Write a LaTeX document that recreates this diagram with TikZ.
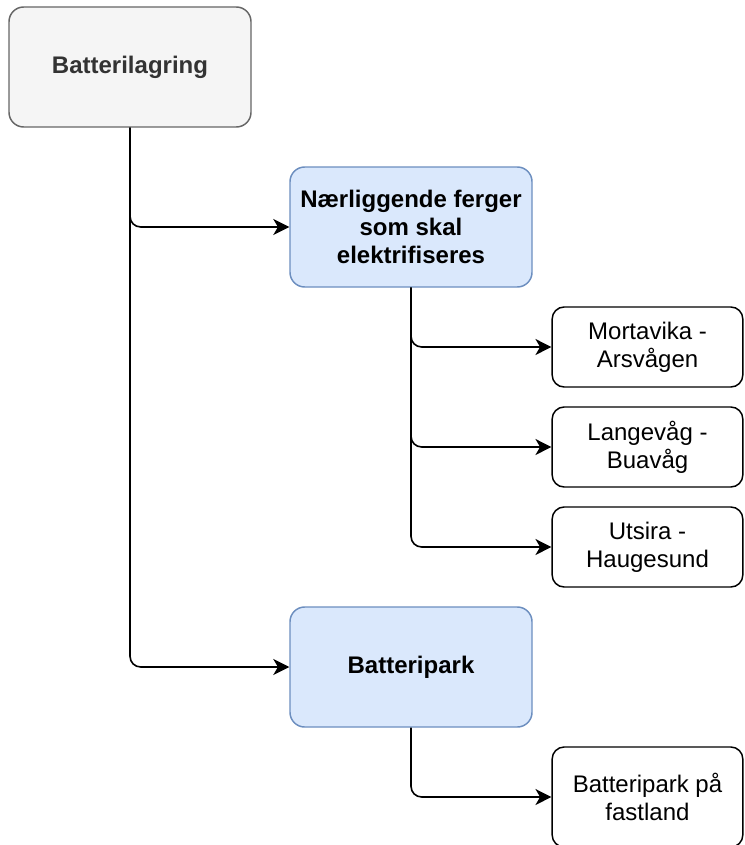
\documentclass[tikz,border=0pt]{standalone}
\usepackage{fontspec}
\setmainfont{Liberation Sans}
\usetikzlibrary{arrows.meta}
\definecolor{grayfill}{HTML}{F5F5F5}
\definecolor{grayline}{HTML}{666666}
\definecolor{graytext}{HTML}{333333}
\definecolor{bluefill}{HTML}{DAE8FC}
\definecolor{blueline}{HTML}{6C8EBF}
\tikzset{
  box/.style={draw, rounded corners=11pt, line width=1.1pt, align=center,
    inner sep=0pt, font=\fontsize{18}{21}\selectfont},
  rootbox/.style={box, fill=grayfill, draw=grayline, text=graytext,
    minimum width=181.5pt, minimum height=90pt, font=\fontsize{18}{21}\selectfont\bfseries},
  groupbox/.style={box, fill=bluefill, draw=blueline,
    minimum width=181.5pt, minimum height=90pt, font=\fontsize{18}{21}\selectfont\bfseries},
  leafbox/.style={box, fill=white, draw=black, rounded corners=9pt,
    minimum width=143pt, minimum height=60pt},
  link/.style={draw, line width=1.2pt, rounded corners=8pt,
    -{Stealth[length=12pt, width=12pt, inset=3.5pt]}}
}
\begin{document}
\begin{tikzpicture}[x=0.75pt, y=-0.75pt]
  \useasboundingbox (0,0) rectangle (745,845);
  \clip (0,0) rectangle (745,845);

  % top level
  \node[rootbox] (lagring) at (130,67) {Batterilagring};

  % second level
  \node[groupbox] (ferger) at (411,227) {Nærliggende ferger\\som skal\\elektrifiseres};
  \node[groupbox] (park) at (411,667) {Batteripark};

  % ferry routes
  \node[leafbox] (mort) at (647.5,347) {Mortavika -\\Arsvågen};
  \node[leafbox] (lang) at (647.5,447) {Langevåg -\\Buavåg};
  \node[leafbox] (utsi) at (647.5,547) {Utsira -\\Haugesund};

  % mainland battery park
  \node[leafbox, minimum height=75pt] (fast) at (647.5,797) {Batteripark på\\fastland};

  % connectors
  \draw[link] (lagring.south) |- (ferger.west);
  \draw[link] (lagring.south) |- (park.west);
  \draw[link] (ferger.south) |- (mort.west);
  \draw[link] (ferger.south) |- (lang.west);
  \draw[link] (ferger.south) |- (utsi.west);
  \draw[link] (park.south) |- (fast.west);
\end{tikzpicture}
\end{document}
